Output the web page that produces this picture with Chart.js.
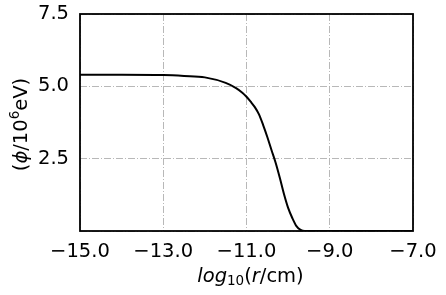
<!DOCTYPE html>
<html>
<head>
<meta charset="utf-8">
<script src="https://cdn.jsdelivr.net/npm/chart.js@4/dist/chart.umd.min.js"></script>
<style>
    html, body { margin: 0; padding: 0; background: #fff; }
    #wrap { width: 446px; height: 295px; }
</style>
</head>
<body>
<div id="wrap"><canvas id="phichart"></canvas></div>
<script>
// log10(r/cm) sample positions and phi / 10^6 eV
const logR = [-15, -14, -13, -12.5, -12, -11.5, -11.25, -11.1, -11, -10.9, -10.8, -10.7, -10.6, -10.5, -10.4, -10.3, -10.2, -10.1, -10, -9.9, -9.8, -9.7, -9.6, -9, -8, -7]
const phi = [5.40, 5.40, 5.39, 5.36, 5.31, 5.12, 4.94, 4.78, 4.64, 4.47, 4.28, 4.03, 3.66, 3.25, 2.80, 2.36, 1.84, 1.28, 0.80, 0.45, 0.17, 0.04, 0, 0, 0, 0]
const xTicks = [-15, -13, -11, -9, -7]
const yTicks = [2.5, 5.0, 7.5]

const fontName = "'DejaVu Sans', sans-serif"
const fontSize = 19.5

function fmt(v) {
    return v.toFixed(1).replace('-', '\u2212')
}

// draws a run of text pieces, each with its own style and vertical shift
function drawPieces(ctx, pieces, cx, cy) {
    let total = 0
    pieces.forEach(p => {
        ctx.font = `${p.italic ? 'italic ' : ''}${p.size}px ${fontName}`
        p.w = ctx.measureText(p.text).width
        total += p.w
    })
    let x = cx - total / 2
    pieces.forEach(p => {
        ctx.font = `${p.italic ? 'italic ' : ''}${p.size}px ${fontName}`
        ctx.fillText(p.text, x, cy + (p.dy || 0))
        x += p.w
    })
}

const framePlugin = {
    id: 'frame',
    afterDraw(chart) {
        const ctx = chart.ctx
        const a = chart.chartArea
        ctx.save()
        ctx.strokeStyle = '#000'
        ctx.lineWidth = 1.8
        ctx.strokeRect(a.left, a.top, a.right - a.left, a.bottom - a.top)

        ctx.fillStyle = '#000'
        ctx.textBaseline = 'alphabetic'
        ctx.textAlign = 'left'
        // x axis title
        drawPieces(ctx, [
            { text: 'log', italic: true, size: fontSize },
            { text: '10', size: 13.5, dy: 3 },
            { text: '(', size: fontSize },
            { text: 'r', italic: true, size: fontSize },
            { text: '/cm)', size: fontSize },
        ], (a.left + a.right) / 2 + 4, 282)

        // y axis title
        ctx.translate(27, (a.top + a.bottom) / 2 + 2)
        ctx.rotate(-Math.PI / 2)
        drawPieces(ctx, [
            { text: '(', size: fontSize },
            { text: '\u03d5', italic: true, size: fontSize },
            { text: '/10', size: fontSize },
            { text: '6', size: 13.5, dy: -8 },
            { text: 'eV)', size: fontSize },
        ], 0, 0)
        ctx.restore()
    }
}

const gridLook = {
    color: '#b0b0b0',
    lineWidth: 0.9,
    drawTicks: false,
}

new Chart('phichart', {
    type: 'line',
    data: {
        datasets: [{
            data: logR.map((x, i) => ({ x: x, y: phi[i] })),
            borderColor: '#000',
            borderWidth: 2,
            pointRadius: 0,
            cubicInterpolationMode: 'monotone',
            fill: false,
        }]
    },
    options: {
        responsive: true,
        maintainAspectRatio: false,
        animation: false,
        layout: { padding: { left: 0, right: 33, top: 14, bottom: 0 } },
        plugins: {
            legend: { display: false },
            tooltip: { enabled: false },
        },
        scales: {
            x: {
                type: 'linear',
                min: -15,
                max: -7,
                afterBuildTicks: s => { s.ticks = xTicks.map(v => ({ value: v })) },
                afterFit: s => { s.height = 64; s.paddingLeft = 0; s.paddingRight = 0 },
                grid: gridLook,
                border: { display: false, dash: [7, 2, 1, 2] },
                ticks: {
                    color: '#000',
                    font: { family: fontName, size: fontSize },
                    padding: 9,
                    maxRotation: 0,
                    callback: v => fmt(v),
                },
            },
            y: {
                min: 0,
                max: 7.5,
                afterBuildTicks: s => { s.ticks = [0].concat(yTicks).map(v => ({ value: v })) },
                afterFit: s => { s.width = 80; s.paddingTop = 0; s.paddingBottom = 0 },
                grid: gridLook,
                border: { display: false, dash: [7, 2, 1, 2] },
                ticks: {
                    color: '#000',
                    font: { family: fontName, size: fontSize },
                    padding: 11,
                    callback: v => v === 0 ? '' : v.toFixed(1),
                },
            },
        },
    },
    plugins: [framePlugin],
})
</script>
</body>
</html>
